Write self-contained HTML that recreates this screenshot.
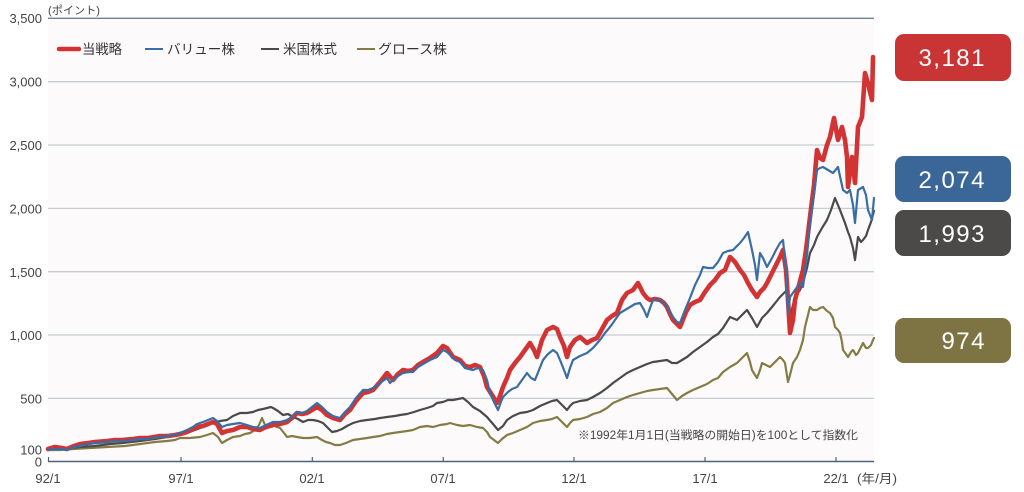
<!DOCTYPE html>
<html><head><meta charset="utf-8">
<style>
html,body{margin:0;padding:0;background:#fff;}
svg{display:block;}
text{font-family:"Liberation Sans","Noto Sans CJK JP",sans-serif;}
</style></head>
<body>
<svg width="1024" height="492" viewBox="0 0 1024 492" xmlns="http://www.w3.org/2000/svg">
<rect x="48" y="18" width="826" height="443" fill="#fdfafc"/>
<!-- grid -->
<g stroke="#c6ccd5" stroke-width="1.3">
<line x1="48" y1="81.7" x2="874" y2="81.7"/>
<line x1="48" y1="145" x2="874" y2="145"/>
<line x1="48" y1="208.4" x2="874" y2="208.4"/>
<line x1="48" y1="271.7" x2="874" y2="271.7"/>
<line x1="48" y1="335" x2="874" y2="335"/>
<line x1="48" y1="398.4" x2="874" y2="398.4"/>
</g>
<line x1="48" y1="18.3" x2="874" y2="18.3" stroke="#6f8296" stroke-width="1.3"/>
<!-- y labels -->
<g font-size="13" fill="#444" text-anchor="end">
<text x="42" y="23">3,500</text>
<text x="42" y="86.5">3,000</text>
<text x="42" y="150">2,500</text>
<text x="42" y="213.5">2,000</text>
<text x="42" y="277">1,500</text>
<text x="42" y="340">1,000</text>
<text x="42" y="403.5">500</text>
<text x="42" y="454.5">100</text>
<text x="42" y="466.5">0</text>
</g>
<text x="48" y="14" font-size="11" fill="#444" textLength="52" lengthAdjust="spacingAndGlyphs">(ポイント)</text>
<!-- x axis -->
<line x1="48" y1="461.5" x2="874" y2="461.5" stroke="#4e6378" stroke-width="1.6"/>
<g stroke="#4e6378" stroke-width="1.2">
<line x1="48.5" y1="457" x2="48.5" y2="462"/>
<line x1="181" y1="457" x2="181" y2="462"/>
<line x1="312.3" y1="457" x2="312.3" y2="462"/>
<line x1="443.3" y1="457" x2="443.3" y2="462"/>
<line x1="574" y1="457" x2="574" y2="462"/>
<line x1="705" y1="457" x2="705" y2="462"/>
<line x1="836" y1="457" x2="836" y2="462"/>
</g>
<g font-size="13" fill="#444" text-anchor="middle">
<text x="48" y="483">92/1</text>
<text x="181" y="483">97/1</text>
<text x="312" y="483">02/1</text>
<text x="443" y="483">07/1</text>
<text x="574" y="483">12/1</text>
<text x="705" y="483">17/1</text>
<text x="836" y="483">22/1</text>
</g>
<text x="857" y="483" font-size="12.5" fill="#444" textLength="40" lengthAdjust="spacingAndGlyphs">(年/月)</text>
<text x="578" y="439" font-size="11.5" fill="#444" textLength="280" lengthAdjust="spacingAndGlyphs">※1992年1月1日(当戦略の開始日)を100として指数化</text>

<!-- series -->
<g fill="none" stroke-linejoin="round" stroke-linecap="round">
<polyline stroke="#857b45" stroke-width="2.2" points="48,450 60,450 73,449 90,448 107,447 125,446 140,444 155,442 167,441 175,440 180,438 190,438 200,437 207,435 213,433 218,437 222,443 227,440 233,437 240,436 245,434 250,433 255,430 259,425 262,418 265,425 267,428 270,426 273,425 277,427 280,428 284,433 287,437 292,436 297,437 303,438 310,438 317,437 322,440 326,442 330,443 335,445 340,445 346,443 353,440 360,439 367,438 373,437 380,436 387,434 393,433 400,432 407,431 413,430 420,427 427,426 433,427 440,425 447,424 450,423 457,425 463,426 470,425 477,427 483,428 487,432 490,437 494,440 498,443 502,439 507,435 513,433 520,430 527,427 533,423 540,421 547,420 552,419 557,417 562,422 567,427 570,423 573,420 580,419 587,417 593,414 600,412 607,408 613,403 620,400 627,397 633,395 640,393 647,391 653,390 660,389 667,388 672,394 677,400 682,396 687,393 693,390 700,387 707,384 713,380 718,378 723,372 730,367 737,363 742,358 747,353 750,362 752,370 755,375 757,378 760,370 762,363 766,365 770,367 775,362 780,357 783,360 785,363 788,382 790,375 793,363 797,357 800,350 803,340 805,327 808,315 810,307 813,310 817,310 820,308 823,307 827,311 830,313 833,318 835,327 838,330 840,333 842,342 843,350 846,354 848,357 851,352 853,350 856,355 858,353 861,347 863,343 866,348 868,348 871,345 873,340 874,338"/>
<polyline stroke="#4a4a4a" stroke-width="2.2" points="48,449 60,449 70,448 80,447 95,446 110,444 123,443 140,441 155,439 167,437 177,435 187,433 195,430 203,427 213,423 220,421 227,420 233,416 240,413 247,413 253,412 258,410 263,409 267,408 271,407 273,408 278,411 283,415 288,414 293,417 298,419 303,422 308,420 313,420 318,421 323,423 328,428 332,432 337,431 342,429 347,426 353,423 360,421 367,420 375,419 380,418 387,417 395,416 400,415 407,414 414,412 420,410 427,408 433,406 437,403 443,402 448,400 453,400 458,399 463,398 468,402 473,407 480,411 487,417 493,424 498,430 503,426 507,420 513,416 520,413 527,412 533,410 540,406 547,403 552,401 557,400 562,405 567,410 570,406 573,403 580,401 587,400 593,397 600,393 607,388 613,383 620,378 627,373 633,370 640,367 647,364 653,362 660,361 667,360 672,363 677,363 682,360 687,357 693,352 700,347 707,342 713,337 718,334 723,328 730,317 737,320 742,315 747,310 752,318 757,327 762,318 767,313 772,307 776,302 780,297 784,293 787,290 790,317 793,305 795,297 800,290 803,283 807,268 810,253 814,245 817,237 822,228 827,220 831,210 835,198 840,210 845,223 848,232 850,237 853,248 855,260 858,237 861,242 863,240 866,236 868,230 871,222 874,211"/>
<polyline stroke="#d23434" stroke-width="4.6" points="48,449 55,447 62,448 67,449 74,446 80,444 88,443 95,442 107,441 115,440 122,440 133,439 140,438 148,438 160,436 168,436 175,435 180,434 187,432 193,429 197,427 203,426 208,424 213,422 217,424 222,433 227,431 233,430 240,427 247,427 253,429 260,430 266,427 273,425 280,424 287,422 292,418 297,413 302,414 307,413 312,410 317,407 322,410 327,415 333,418 340,420 345,414 350,410 356,401 363,393 368,392 373,390 380,382 387,373 393,380 398,374 403,370 408,371 413,370 418,365 423,362 430,358 437,353 443,346 447,348 453,357 460,360 465,366 470,367 475,365 480,367 484,376 487,387 492,395 497,403 500,396 503,387 507,378 510,370 515,363 520,357 525,350 530,343 534,350 537,357 542,340 547,330 553,327 557,329 560,337 564,346 567,357 570,347 575,340 580,337 587,343 592,340 597,338 602,329 607,320 612,316 617,313 622,300 627,293 633,290 638,283 643,293 647,298 650,300 655,299 660,300 664,303 667,307 670,314 673,320 677,324 680,327 686,312 690,305 695,302 700,300 705,292 710,285 715,280 720,273 725,270 730,257 735,262 740,270 744,275 748,283 752,290 757,297 760,292 764,288 767,283 772,273 776,265 780,257 783,250 786,270 788,300 790,333 793,320 795,300 799,285 803,270 806,250 810,217 814,185 817,150 820,158 823,160 827,145 830,137 834,118 838,140 842,127 845,140 847,157 848,187 852,157 855,183 858,127 862,117 865,73 868,83 870,92 872,100 873,57"/>
<polyline stroke="#3a6da3" stroke-width="2.2" points="48,450 55,449 62,449 67,450 74,447 80,446 88,444 95,443 107,442 115,441 122,441 133,440 140,439 148,439 160,437 168,436 175,435 180,433 187,430 193,427 197,424 203,422 208,420 213,418 217,421 222,427 227,425 233,424 240,423 247,425 253,427 260,428 266,425 273,422 280,422 287,420 292,417 297,412 302,413 307,411 312,407 317,403 322,407 327,412 333,416 340,418 345,412 350,407 356,398 363,390 368,390 373,388 380,383 387,378 390,383 395,378 403,373 408,372 413,372 418,367 423,364 430,360 437,357 443,350 447,352 455,360 460,362 465,368 473,370 478,368 483,370 487,380 490,393 494,402 498,410 501,402 503,397 508,392 512,389 517,387 522,380 527,373 531,378 535,380 539,370 543,360 548,354 553,350 557,353 560,360 564,370 567,378 570,368 573,360 580,356 587,353 593,348 600,340 605,333 610,327 615,320 620,313 625,310 630,307 635,304 640,303 644,310 647,317 650,308 653,300 657,300 660,300 664,303 667,307 670,312 673,317 677,322 680,323 685,310 690,298 695,285 700,275 703,267 708,268 713,268 718,262 723,253 728,251 733,250 737,246 740,243 744,238 748,232 752,250 755,265 757,280 760,253 763,258 767,267 772,258 776,250 780,243 783,240 786,270 788,313 790,297 795,290 800,283 803,287 807,255 810,223 814,195 817,170 820,168 823,167 828,170 833,173 838,167 843,190 847,193 850,190 853,205 855,223 858,190 863,187 866,195 868,210 872,220 874,198"/>
</g>

<!-- legend -->
<line x1="59" y1="49" x2="79" y2="49" stroke="#d23434" stroke-width="4.5" stroke-linecap="round"/>
<text x="82" y="54" font-size="13.5" fill="#333" textLength="40" lengthAdjust="spacingAndGlyphs">当戦略</text>
<line x1="145" y1="49" x2="163" y2="49" stroke="#3a6da3" stroke-width="2"/>
<text x="167" y="54" font-size="13.5" fill="#333" textLength="68" lengthAdjust="spacingAndGlyphs">バリュー株</text>
<line x1="261" y1="49" x2="279" y2="49" stroke="#4a4a4a" stroke-width="2"/>
<text x="283" y="54" font-size="13.5" fill="#333" textLength="54" lengthAdjust="spacingAndGlyphs">米国株式</text>
<line x1="357" y1="49" x2="375" y2="49" stroke="#857b45" stroke-width="2"/>
<text x="378" y="54" font-size="13.5" fill="#333" textLength="69" lengthAdjust="spacingAndGlyphs">グロース株</text>

<!-- badges -->
<rect x="895" y="34" width="116" height="47" rx="9" fill="#c93535"/>
<rect x="895" y="156" width="116" height="46" rx="9" fill="#3b6698"/>
<rect x="895" y="210" width="116" height="46" rx="9" fill="#4b4a48"/>
<rect x="895" y="318" width="116" height="45" rx="9" fill="#7e7443"/>
<g font-size="24" fill="#fff" text-anchor="end" letter-spacing="1.5">
<text x="986" y="66">3,181</text>
<text x="986" y="188">2,074</text>
<text x="986" y="242">1,993</text>
<text x="986" y="349">974</text>
</g>
</svg>
</body></html>
